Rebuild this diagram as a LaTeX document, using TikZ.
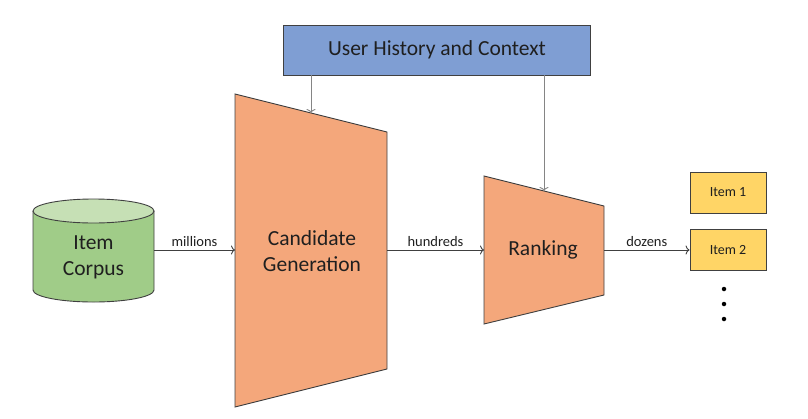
\documentclass[tikz,border=0pt]{standalone}
\usepackage{fontspec}
\setmainfont{Carlito}
\usepackage{tikz}
\usetikzlibrary{arrows.meta}
\definecolor{userblue}{HTML}{7F9ED3}
\definecolor{stageorange}{HTML}{F4A77B}
\definecolor{corpusgreen}{HTML}{A0CC88}
\definecolor{corpustop}{HTML}{C6E0B5}
\definecolor{itemyellow}{HTML}{FFD566}
\definecolor{edgegray}{HTML}{404040}
\definecolor{feedgray}{HTML}{858585}
\tikzstyle{bigtext} = [font=\fontsize{21.5}{26}\selectfont, align=center, text=black!88]
\tikzstyle{lbl} = [font=\fontsize{14.5}{16}\selectfont, text=black!88, inner sep=3pt]
\tikzstyle{stage} = [draw=edgegray, fill=stageorange]
\tikzstyle{item} = [draw=edgegray, fill=itemyellow, minimum width=76pt, minimum height=41pt, font=\fontsize{14}{16}\selectfont, text=black!88]
\tikzstyle{dot} = [circle, fill=black, inner sep=0pt, minimum size=4.5pt]

\begin{document}
\begin{tikzpicture}[x=1pt, y=-1pt, line width=0.9pt, >={To[length=4pt, width=9pt]}]
  \useasboundingbox (0,0) rectangle (808,418);
  \node (user) at (437,50) [draw=edgegray, fill=userblue, minimum width=307pt, minimum height=50pt, bigtext] {User History and Context};
  \fill [corpusgreen] (33,211) -- (33,290) arc [start angle=180, end angle=360, x radius=60.5pt, y radius=12pt] -- (154,211) -- cycle;
  \draw [edgegray] (33,211) -- (33,290) arc [start angle=180, end angle=360, x radius=60.5pt, y radius=12pt] -- (154,211);
  \draw [edgegray, fill=corpustop] (93.5,211) ellipse [x radius=60.5pt, y radius=12pt];
  \node (corpus) at (93.5,257) [bigtext] {Item\\Corpus};
  \draw [stage] (235,94) -- (387,132) -- (387,369) -- (235,407) -- cycle;
  \node (cand) at (312,251) [bigtext] {Candidate\\Generation};
  \draw [stage] (484,176) -- (604,206) -- (604,295) -- (484,324) -- cycle;
  \node (rank) at (543,250) [bigtext] {Ranking};
  \coordinate (corpusout) at (154,250);
  \coordinate (candin) at (235,250);
  \coordinate (candout) at (387,250);
  \coordinate (candtop) at (311,113);
  \coordinate (rankin) at (484,250);
  \coordinate (rankout) at (604,250);
  \coordinate (ranktop) at (544,191);
  \node (item1) at (728,192.5) [item] {Item 1};
  \node (item2) at (728,250) [item] {Item 2};
  \foreach \y [count=\i] in {289,304,319}
    \node (dot\i) at (724,\y) [dot] {};
  \draw [->, edgegray] (corpusout) to node [above, lbl] {millions} (candin);
  \draw [->, edgegray] (candout) to node [above, lbl] {hundreds} (rankin);
  \draw [->, edgegray] (rankout) to node [above, lbl] {dozens} (item2.west);
  \draw [->, feedgray] (user.south -| candtop) to (candtop);
  \draw [->, feedgray] (user.south -| ranktop) to (ranktop);
\end{tikzpicture}
\end{document}
